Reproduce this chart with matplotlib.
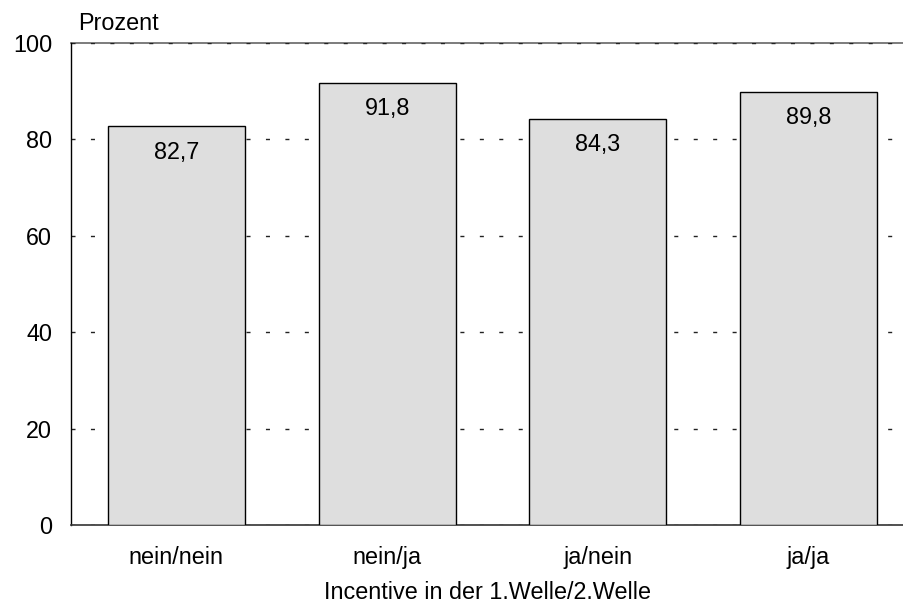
import matplotlib
matplotlib.use("Agg")
import matplotlib.pyplot as plt

categories = ['nein/nein', 'nein/ja', 'ja/nein', 'ja/ja']
values = [82.7, 91.8, 84.3, 89.8]
yticks = [0, 20, 40, 60, 80, 100]

plt.rcParams['font.family'] = ['Liberation Sans', 'DejaVu Sans']
fs = 16.8

fig = plt.figure(figsize=(9.04, 6.05), dpi=100)
ax = fig.add_axes([71 / 904, 1 - 525 / 605, (904 - 71) / 904, (525 - 43) / 605])

x = range(len(categories))
ax.bar(x, values, width=0.65, color='#dedede', edgecolor='black', linewidth=1.0, zorder=3)

for xi, v in zip(x, values):
    ax.text(xi, v - 6.7, f"{v:.1f}".replace('.', ','), ha='center', va='baseline',
            fontsize=fs, zorder=4)

ax.set_xlim(-0.5, 3.453)
ax.set_ylim(0, 100)
ax.set_yticks(yticks)
ax.set_yticklabels([str(t) for t in yticks])
ax.set_xticks(list(x))
ax.set_xticklabels(categories)
ax.tick_params(axis='both', length=0, labelsize=fs)
ax.tick_params(axis='y', pad=13.5)
ax.tick_params(axis='x', pad=15)

ax.yaxis.grid(True, linestyle=(0, (2.9, 11.1)), color='#222222', linewidth=1.0, zorder=1)
ax.spines['right'].set_visible(False)
ax.spines['top'].set_color('#666666')
ax.spines['top'].set_linewidth(1.2)
ax.spines['top'].set_zorder(0.5)
ax.spines['left'].set_linewidth(1.0)
ax.spines['bottom'].set_linewidth(1.2)
ax.spines['bottom'].set_color('#333333')

ax.set_xlabel('Incentive in der 1.Welle/2.Welle', fontsize=fs, labelpad=9)
fig.text(78 / 904, 1 - 24 / 605, 'Prozent', fontsize=fs, va='center', ha='left')

fig.savefig('out.png', dpi=100)
